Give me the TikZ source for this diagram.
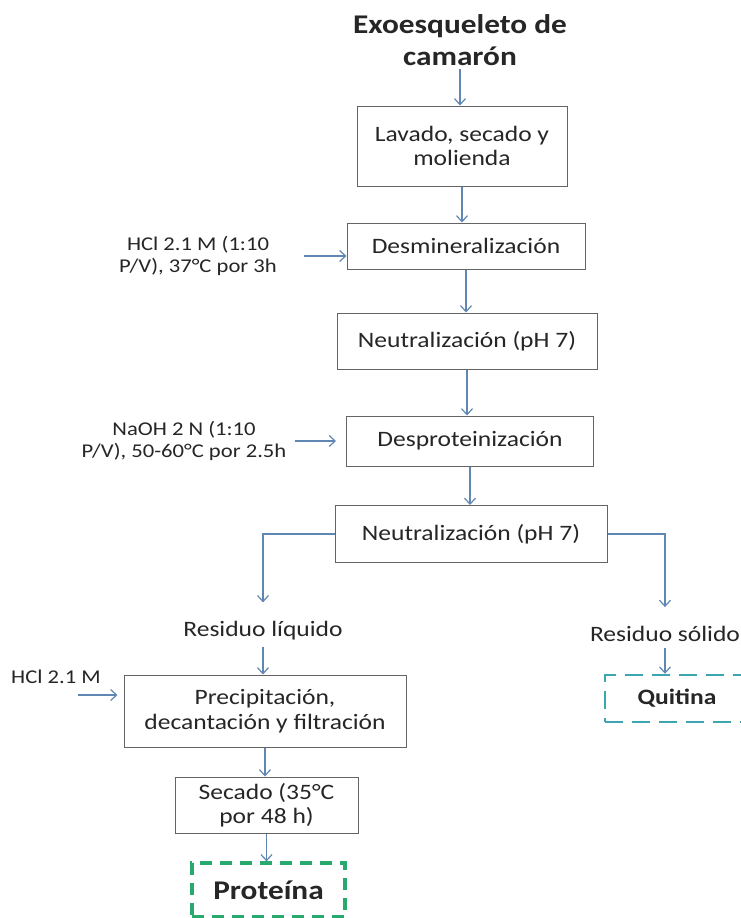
\documentclass[tikz,border=0pt]{standalone}
\usepackage{fontspec}
\setmainfont{Carlito}[FakeStretch=1.16]
\usetikzlibrary{arrows.meta}
\definecolor{ink}{RGB}{38,38,38}
\definecolor{boxline}{RGB}{100,100,100}
\definecolor{arrowblue}{RGB}{96,134,180}
\definecolor{protgreen}{RGB}{40,170,110}
\definecolor{quitteal}{RGB}{60,165,175}
\tikzstyle{stepbox}=[rectangle,draw=boxline,line width=1pt,fill=white,
                     text=ink,align=center,inner sep=0pt,
                     font=\fontsize{22}{24.5}\selectfont]
\tikzstyle{steptext}=[text=ink,align=center,inner sep=6pt,
                      font=\fontsize{22}{24.5}\selectfont]
\tikzstyle{sidetext}=[text=ink,align=center,inner sep=0pt,
                      font=\fontsize{19.5}{22.5}\selectfont]
\tikzstyle{product}=[rectangle,fill=white,text=ink,align=center,inner sep=0pt]
\tikzstyle{arr}=[draw=arrowblue,line width=1.2pt,
                 -{Straight Barb[length=6pt,width=11pt]}]

\begin{document}
\begin{tikzpicture}[x=1pt,y=-1pt]
    \path[use as bounding box,fill=white] (0,0) rectangle (740,918);
    \node (title) at (460,40) [text=ink,align=center,
        font=\bfseries\fontsize{27}{32}\selectfont] {Exoesqueleto de\\camarón};
    \node (lav) at (462,146) [stepbox,minimum width=210pt,minimum height=80pt]
        {Lavado, secado y\\molienda};
    \node (desm) at (466,246) [stepbox,minimum width=238pt,minimum height=46pt]
        {Desmineralización};
    \node (neu1) at (467,341) [stepbox,minimum width=260pt,minimum height=56pt]
        {Neutralización (pH 7)};
    \node (desp) at (470,441) [stepbox,minimum width=247pt,minimum height=50pt]
        {Desproteinización};
    \node (neu2) at (471,534) [stepbox,minimum width=272pt,minimum height=57pt]
        {Neutralización (pH 7)};
    \node (rliq) at (263,631) [steptext] {Residuo líquido};
    \node (rsol) at (665,634) [steptext] {Residuo sólido};
    \node (prec) at (265,711) [stepbox,minimum width=282pt,minimum height=72pt]
        {Precipitación,\\decantación y filtración};
    \node (sec) at (266.5,805) [stepbox,minimum width=183pt,minimum height=56pt]
        {Secado (35°C\\por 48 h)};
    \node (prot) at (268.5,890) [product,draw=protgreen,line width=3.2pt,
        dash pattern=on 12pt off 8pt,minimum width=153pt,minimum height=54pt,
        font=\bfseries\fontsize{27}{30}\selectfont] {Proteína};
    \node (quit) at (677,698.5) [product,draw=quitteal,line width=2.5pt,
        dash pattern=on 18pt off 9pt,minimum width=144pt,minimum height=47pt,
        font=\bfseries\fontsize{22}{24}\selectfont] {Quitina};
    \node (hcla) at (198,256) [sidetext] {HCl 2.1 M (1:10\\P/V), 37°C por 3h};
    \node (naoh) at (184,441) [sidetext] {NaOH 2 N (1:10\\P/V), 50-60°C por 2.5h};
    \node (hclb) at (56,677) [sidetext] {HCl 2.1 M};
    \coordinate (hclin) at (78,695);

    \draw[arr] (title.south) -- (title.south |- lav.north);
    \draw[arr] (lav.south) -- (lav.south |- desm.north);
    \draw[arr] (desm.south) -- (desm.south |- neu1.north);
    \draw[arr] (neu1.south) -- (neu1.south |- desp.north);
    \draw[arr] (desp.south) -- (desp.south |- neu2.north);
    \draw[arr,shorten >=13pt] (neu2.west) -| (rliq.north);
    \draw[arr,shorten >=13pt] (neu2.east) -| (rsol.north);
    \draw[arr] (rliq.south) -- (rliq.south |- prec.north);
    \draw[arr] (rsol.south) -- (rsol.south |- quit.north);
    \draw[arr] (prec.south) -- (prec.south |- sec.north);
    \draw[arr] (sec.south) -- (sec.south |- prot.north);
    \draw[arr,shorten <=27pt] (hcla.east) -- (hcla.east -| desm.west);
    \draw[arr,shorten <=8pt,shorten >=10pt] (naoh.east) -- (naoh.east -| desp.west);
    \draw[arr,shorten >=6pt] (hclin) -- (hclin -| prec.west);
\end{tikzpicture}
\end{document}
